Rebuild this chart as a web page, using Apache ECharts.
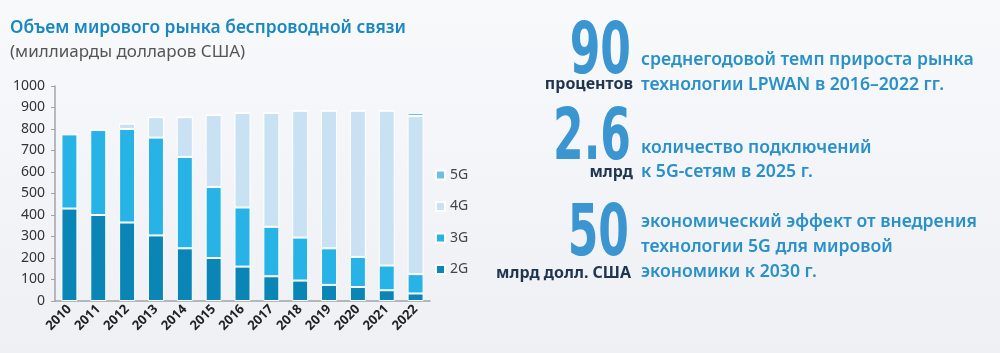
<!DOCTYPE html>
<html>
<head>
<meta charset="utf-8">
<script src="https://cdn.jsdelivr.net/npm/echarts@6/dist/echarts.min.js"></script>
<style>
  html, body { margin: 0; padding: 0; }
  #chart { width: 1000px; height: 353px; }
</style>
</head>
<body>
<div id="chart"></div>
<script>
// данные графика (млрд долл. США)
var years = ['2010', '2011', '2012', '2013', '2014', '2015', '2016', '2017', '2018', '2019', '2020', '2021', '2022']
var g2 = [430, 400, 365, 305, 245, 200, 160, 115, 95, 75, 65, 50, 35]
var g3 = [345, 395, 435, 455, 425, 330, 275, 230, 200, 170, 140, 115, 90]
var g4 = [0, 0, 25, 95, 185, 335, 440, 530, 590, 640, 680, 720, 735]
var g5 = [0, 0, 0, 0, 0, 0, 0, 0, 0, 0, 0, 2, 15]
var yTicks = [0, 100, 200, 300, 400, 500, 600, 700, 800, 900, 1000]

var blue = '#2a90c8'
var dark = '#1f3550'
var txtFont = '600 17.6px "Noto Sans", sans-serif'
var bigFont = 'bold 71px "DejaVu Sans", sans-serif'
var subFont = 'bold 16px "Noto Sans", sans-serif'

function bar(name, data, color) {
    return {
        name: name, type: 'bar', stack: 'all', data: data,
        barWidth: 16,
        itemStyle: { color: color, borderColor: '#ffffff', borderWidth: 1 }
    }
}

// большие узкие цифры
function big(text, x, y) {
    return {
        type: 'text', x: x, y: y, scaleX: 0.62,
        style: { text: text, x: 0, y: 0, textAlign: 'right', textVerticalAlign: 'middle', font: bigFont, fill: '#3a95d0' }
    }
}
function line(text, x, y, font, color, align) {
    return {
        type: 'text',
        style: { text: text, x: x, y: y, textAlign: align || 'left', textVerticalAlign: 'middle', font: font, fill: color }
    }
}

var chart = echarts.init(document.getElementById('chart'))
chart.setOption({
    animation: false,
    backgroundColor: {
        type: 'linear', x: 0, y: 0, x2: 0, y2: 1,
        colorStops: [{ offset: 0, color: '#f8f9fb' }, { offset: 1, color: '#eef0f4' }]
    },
    title: [
        { text: 'Объем мирового рынка беспроводной связи', left: 5, top: 15,
          textStyle: { fontFamily: 'Noto Sans', fontSize: 17.4, fontWeight: 600, color: '#1b87c0' } },
        { text: '(миллиарды долларов США)', left: 5, top: 39,
          textStyle: { fontFamily: 'Noto Sans', fontSize: 17, fontWeight: 'normal', color: '#555' } }
    ],
    legend: {
        orient: 'vertical', left: 430, top: 163,
        data: ['5G', '4G', '3G', '2G'],
        icon: 'rect', itemWidth: 9, itemHeight: 9, itemGap: 17.5,
        textStyle: { fontFamily: 'Noto Sans', fontSize: 14, color: '#444' }
    },
    grid: { left: 55, right: 570, top: 86, bottom: 52 },
    xAxis: {
        type: 'category', data: years,
        axisTick: { show: false },
        axisLine: { lineStyle: { color: '#a0a4a8', width: 1.5 } },
        axisLabel: { rotate: 45, fontFamily: 'Noto Sans', fontSize: 13, fontWeight: 'bold', color: '#222', margin: 6 }
    },
    yAxis: {
        type: 'value', min: yTicks[0], max: yTicks[yTicks.length - 1], interval: 100,
        splitLine: { show: false },
        axisLine: { show: true, lineStyle: { color: '#a0a4a8', width: 1.5 } },
        axisTick: { show: true, length: 4, lineStyle: { color: '#a0a4a8' } },
        axisLabel: { fontFamily: 'Noto Sans', fontSize: 14, color: '#333', margin: 10,
                     formatter: function (v) { return String(v) } }
    },
    series: [
        bar('2G', g2, '#0a86b6'),
        bar('3G', g3, '#27b3e6'),
        bar('4G', g4, '#c8e2f3'),
        bar('5G', g5, '#6cc0e8')
    ],
    graphic: [
        big('90', 631, 55),
        line('процентов', 633, 84, subFont, dark, 'right'),
        line('среднегодовой темп прироста рынка', 641, 60, txtFont, blue),
        line('технологии LPWAN в 2016–2022 гг.', 641, 85, txtFont, blue),

        big('2.6', 631, 141),
        line('млрд', 633, 172, subFont, dark, 'right'),
        line('количество подключений', 641, 148, txtFont, blue),
        line('к 5G-сетям в 2025 г.', 641, 172, txtFont, blue),

        big('50', 629, 237),
        line('млрд долл. США', 631, 273, subFont, dark, 'right'),
        line('экономический эффект от внедрения', 641, 222, txtFont, blue),
        line('технологии 5G для мировой', 641, 247, txtFont, blue),
        line('экономики к 2030 г.', 641, 272, txtFont, blue)
    ]
})
</script>
</body>
</html>
